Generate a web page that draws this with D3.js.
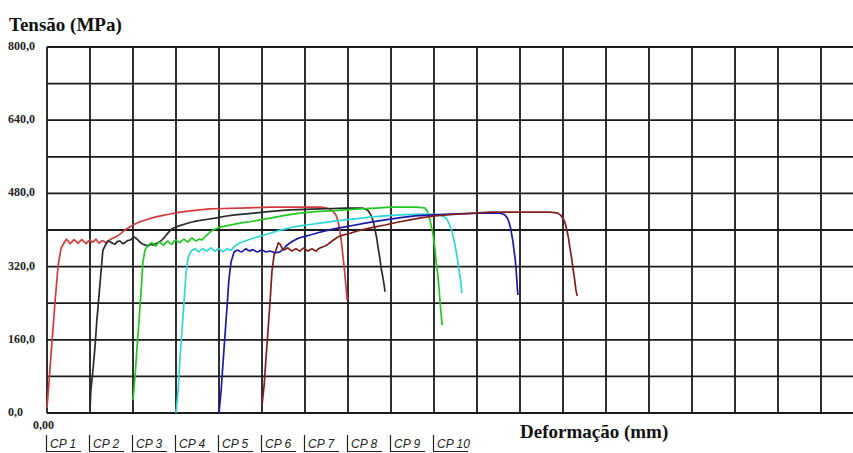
<!DOCTYPE html>
<html>
<head>
<meta charset="utf-8">
<script src="https://cdn.jsdelivr.net/npm/d3@7"></script>
<style>
  html, body { margin: 0; padding: 0; background: #fff; }
  svg { display: block; }
</style>
</head>
<body>
<svg id="chart" width="853" height="453"></svg>
<script>
// Stress–strain curves of tensile specimens (local deformation in mm, stress in MPa)
const specimens = ["CP 1", "CP 2", "CP 3", "CP 4", "CP 5", "CP 6", "CP 7", "CP 8", "CP 9", "CP 10"];

const cp1 = [[0,11],[0.05,72],[0.12,160],[0.19,247],[0.26,324],[0.33,361],[0.40,372],[0.45,380],[0.49,376],[0.54,370],[0.58,374],[0.63,379],[0.67,376],[0.72,371],[0.77,376],[0.81,379],[0.86,374],[0.91,370],[0.95,375],[1.00,378],[1.05,373],[1.09,376],[1.14,380],[1.19,373],[1.23,372],[1.28,377],[1.33,375],[1.37,371],[1.42,376],[1.47,379],[1.53,382],[1.62,386],[1.70,391],[1.80,399],[1.93,407],[2.05,413],[2.16,418],[2.33,423],[2.51,428],[2.70,432],[2.86,435],[3.10,439],[3.33,442],[3.55,444],[3.79,446],[4.10,447],[4.49,448],[4.85,449],[5.19,450],[5.55,450],[5.88,450],[6.15,450],[6.35,450],[6.50,448],[6.58,446],[6.66,440],[6.72,433],[6.77,418],[6.81,400],[6.85,372],[6.88,345],[6.92,310],[6.95,280],[6.98,247]];

const cp2 = [[0,7],[0.02,50],[0.07,94],[0.12,149],[0.16,203],[0.21,258],[0.26,313],[0.30,356],[0.37,369],[0.42,376],[0.47,374],[0.53,371],[0.58,369],[0.64,375],[0.70,376],[0.76,370],[0.81,372],[0.87,377],[0.93,378],[0.98,381],[1.02,385],[1.07,382],[1.12,378],[1.17,373],[1.23,369],[1.29,367],[1.35,365],[1.41,369],[1.47,367],[1.52,370],[1.58,372],[1.63,375],[1.67,378],[1.73,384],[1.79,391],[1.86,398],[1.93,404],[2.07,409],[2.21,413],[2.35,417],[2.49,420],[2.70,423],[2.91,426],[3.14,430],[3.37,433],[3.70,436],[4.02,439],[4.35,442],[4.65,444],[5.00,445],[5.35,446],[5.65,447],[5.93,448],[6.15,448],[6.33,448],[6.42,445],[6.47,442],[6.52,435],[6.56,426],[6.60,414],[6.63,400],[6.67,381],[6.70,361],[6.74,339],[6.77,317],[6.81,297],[6.84,280],[6.86,265]];

const cp3 = [[0,28],[0.05,83],[0.09,138],[0.14,203],[0.19,269],[0.23,330],[0.28,356],[0.35,367],[0.40,370],[0.44,372],[0.49,368],[0.53,365],[0.58,371],[0.63,374],[0.67,369],[0.72,367],[0.77,373],[0.81,376],[0.86,371],[0.91,369],[0.95,375],[1.00,378],[1.05,374],[1.09,372],[1.14,377],[1.19,380],[1.23,376],[1.28,374],[1.33,379],[1.37,383],[1.42,379],[1.47,376],[1.51,379],[1.56,380],[1.60,378],[1.65,383],[1.70,387],[1.74,391],[1.80,396],[1.86,400],[1.96,404],[2.07,407],[2.22,410],[2.37,413],[2.55,416],[2.72,418],[2.95,422],[3.19,426],[3.53,432],[3.88,437],[4.23,440],[4.58,442],[4.93,444],[5.28,446],[5.65,448],[6.00,450],[6.30,450],[6.58,450],[6.72,449],[6.79,448],[6.84,442],[6.88,431],[6.93,412],[6.98,389],[7.02,360],[7.05,330],[7.09,300],[7.12,269],[7.15,232],[7.19,192]];

const cp4 = [[0,0],[0.05,50],[0.09,116],[0.14,181],[0.19,247],[0.23,302],[0.28,339],[0.35,354],[0.40,357],[0.44,359],[0.49,355],[0.53,352],[0.58,357],[0.63,359],[0.67,356],[0.72,354],[0.77,358],[0.81,361],[0.86,357],[0.91,354],[0.95,357],[1.00,359],[1.05,355],[1.09,352],[1.14,356],[1.19,359],[1.23,357],[1.28,356],[1.33,361],[1.37,365],[1.43,369],[1.49,372],[1.58,375],[1.67,378],[1.79,382],[1.91,385],[2.05,389],[2.19,393],[2.36,398],[2.53,402],[2.70,406],[2.88,409],[3.12,412],[3.35,415],[3.64,419],[3.93,422],[4.22,425],[4.51,428],[4.86,431],[5.21,433],[5.50,434],[5.79,435],[6.00,434],[6.14,433],[6.23,429],[6.30,424],[6.36,412],[6.42,396],[6.47,376],[6.51,356],[6.55,335],[6.58,313],[6.62,288],[6.65,262]];

const cp5 = [[0,0],[0.05,50],[0.09,105],[0.14,171],[0.19,236],[0.23,291],[0.28,330],[0.35,352],[0.40,355],[0.44,356],[0.49,353],[0.53,352],[0.58,356],[0.63,359],[0.67,356],[0.72,354],[0.77,357],[0.81,356],[0.86,353],[0.91,352],[0.95,355],[1.00,356],[1.05,354],[1.09,352],[1.14,353],[1.19,354],[1.25,352],[1.30,350],[1.36,351],[1.42,352],[1.49,358],[1.56,365],[1.64,371],[1.72,376],[1.80,380],[1.88,383],[2.00,386],[2.12,389],[2.30,394],[2.47,398],[2.70,403],[2.93,407],[3.17,411],[3.40,415],[3.64,419],[3.87,422],[4.22,427],[4.56,431],[4.97,433],[5.37,435],[5.72,436],[6.07,437],[6.30,437],[6.53,437],[6.60,435],[6.65,433],[6.70,427],[6.74,418],[6.78,405],[6.81,389],[6.84,372],[6.86,356],[6.89,335],[6.91,313],[6.93,285],[6.95,258]];

const cp6 = [[0,17],[0.05,61],[0.09,116],[0.14,181],[0.19,247],[0.23,308],[0.28,345],[0.35,363],[0.38,372],[0.42,369],[0.47,360],[0.51,356],[0.56,359],[0.60,361],[0.65,357],[0.70,354],[0.74,357],[0.79,359],[0.84,356],[0.88,354],[0.93,358],[0.98,361],[1.02,357],[1.07,354],[1.12,357],[1.16,359],[1.21,356],[1.26,354],[1.30,358],[1.35,361],[1.41,363],[1.47,365],[1.55,370],[1.63,376],[1.72,382],[1.81,387],[1.93,390],[2.05,393],[2.22,398],[2.40,402],[2.63,407],[2.86,411],[3.15,417],[3.44,422],[3.73,427],[4.02,431],[4.31,433],[4.60,435],[4.95,437],[5.30,439],[5.65,439],[6.00,439],[6.35,439],[6.70,439],[6.80,438],[6.88,437],[6.95,432],[7.00,426],[7.05,415],[7.09,400],[7.13,381],[7.16,361],[7.20,339],[7.23,317],[7.27,292],[7.30,269],[7.33,256]];

const curves = [cp1, cp2, cp3, cp4, cp5, cp6];
const colors = ["#d23b3b", "#2a2a2a", "#22c922", "#2fd6d6", "#1b1ba8", "#7d1f1f"];

// Y axis tick labels (every 160 MPa); gridlines every 80 MPa
const yLabels = [0, 160, 320, 480, 640, 800];

(function draw() {
  const svg = d3.select("#chart");
  const W = 853;
  const plotLeft = 47, plotTop = 47, plotBottom = 413;
  const cell = 43;          // one grid division along the deformation axis (1 mm)
  const stagger = 1;        // each specimen is shifted by one division
  const serif = "'Liberation Serif', 'Times New Roman', 'DejaVu Serif', serif";

  const x = d3.scaleLinear().domain([0, 20]).range([plotLeft, plotLeft + 20 * cell]);
  const y = d3.scaleLinear().domain([0, 800]).range([plotBottom, plotTop]);

  const fmt = v => d3.format(".1f")(v).replace(".", ",");

  // grid
  const grid = svg.append("g").attr("stroke", "#1a1a1a").attr("stroke-width", 1.8);
  d3.range(0, 801, 80).forEach(v => {
    grid.append("line").attr("x1", x(0)).attr("x2", W).attr("y1", y(v)).attr("y2", y(v));
  });
  d3.range(0, 20).forEach(v => {
    if (x(v) <= W) grid.append("line").attr("x1", x(v)).attr("x2", x(v)).attr("y1", y(0)).attr("y2", y(800));
  });

  // y tick labels
  svg.append("g").selectAll("text").data(yLabels).join("text")
    .attr("x", 8).attr("y", d => y(d) + 3)
    .style("font-family", serif).attr("font-weight", "bold")
    .attr("font-size", 12).attr("fill", "#222")
    .text(d => fmt(d));

  // origin label of the deformation axis
  svg.append("text").attr("x", x(0) - 14).attr("y", 429)
    .style("font-family", serif).attr("font-weight", "bold")
    .attr("font-size", 12).attr("fill", "#222")
    .text(d3.format(".2f")(0).replace(".", ","));

  // axis titles
  svg.append("text").attr("x", 9).attr("y", 31)
    .style("font-family", serif).attr("font-weight", "bold")
    .attr("font-size", 19).attr("fill", "#111")
    .text("Tensão (MPa)");
  svg.append("text").attr("x", 520).attr("y", 438)
    .style("font-family", serif).attr("font-weight", "bold")
    .attr("font-size", 19).attr("fill", "#111")
    .text("Deformação (mm)");

  // curves
  const line = d3.line().x(d => x(d[0])).y(d => y(d[1]));
  svg.append("g").attr("fill", "none").attr("stroke-width", 1.7).attr("stroke-linejoin", "round")
    .selectAll("path").data(curves).join("path")
    .attr("stroke", (d, i) => colors[i])
    .attr("d", (d, i) => line(d.map(p => [p[0] + i * stagger, p[1]])));

  // legend: one entry per grid division under the axis
  const leg = svg.append("g").selectAll("g").data(specimens).join("g")
    .attr("transform", (d, i) => `translate(${x(i * stagger) - 1},0)`);
  leg.append("path").attr("d", "M0.5,435V451.5H35").attr("stroke", "#222").attr("stroke-width", 1.2).attr("fill", "none");
  leg.append("text").attr("x", 4).attr("y", 448)
    .style("font-family", "'Liberation Sans', Arial, sans-serif").attr("font-style", "italic")
    .attr("font-size", 12).attr("fill", "#222")
    .text(d => d);
})();
</script>
</body>
</html>
